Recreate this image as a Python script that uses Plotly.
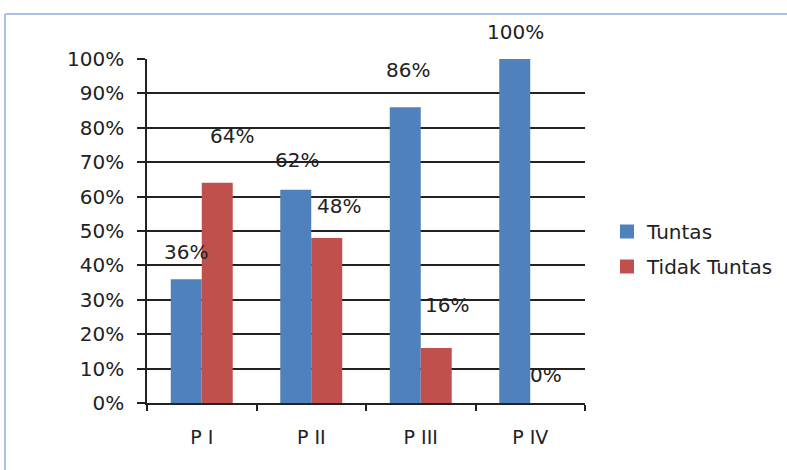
import plotly.graph_objects as go

categories = ["P I", "P II", "P III", "P IV"]
tuntas = [36, 62, 86, 100]
tidak_tuntas = [64, 48, 16, 0]
y_ticks = [0, 10, 20, 30, 40, 50, 60, 70, 80, 90, 100]
y_tick_labels = [f"{v}%" for v in y_ticks]

# label placement style (pixels): vertical lift above bar top, extra horizontal nudge
tuntas_lift = [27, 30, 37, 27]
tuntas_nudge = [0, 1, 3, 1]
tidak_lift = [47, 32, 43, 28]
tidak_nudge = [15, 12, 11, 0]

BLUE = "#4F81BD"
RED = "#C0504D"
FONT = "DejaVu Sans"
FS = 20

W, H = 787, 470
L, R, T, B = 147, 202, 59, 67
pw, ph = W - L - R, H - T - B
bargap = 0.434
bar_px = pw / len(categories) * (1 - bargap) / 2

fig = go.Figure()
fig.add_trace(go.Bar(x=categories, y=tuntas, name="Tuntas",
                     marker=dict(color=BLUE, line=dict(width=0)),
                     showlegend=False))
fig.add_trace(go.Bar(x=categories, y=tidak_tuntas, name="Tidak Tuntas",
                     marker=dict(color=RED, line=dict(width=0)),
                     showlegend=False))
# legend swatches (square markers sized like the reference)
for nm, col, grp in [("Tuntas", BLUE, "a"), ("Tidak Tuntas", RED, "b")]:
    fig.add_trace(go.Scatter(x=[None], y=[None], mode="markers", name=nm,
                             marker=dict(symbol="square", size=14, color=col),
                             legendgroup=grp, showlegend=True, hoverinfo="skip"))

ann = []
for i, c in enumerate(categories):
    ann.append(dict(x=c, y=tuntas[i], xref="x", yref="y", text=f"{tuntas[i]}%",
                    showarrow=False, xanchor="center", yanchor="middle",
                    xshift=-bar_px / 2 + tuntas_nudge[i], yshift=tuntas_lift[i],
                    font=dict(family=FONT, size=FS, color="#222")))
    ann.append(dict(x=c, y=tidak_tuntas[i], xref="x", yref="y", text=f"{tidak_tuntas[i]}%",
                    showarrow=False, xanchor="center", yanchor="middle",
                    xshift=bar_px / 2 + tidak_nudge[i], yshift=tidak_lift[i],
                    font=dict(family=FONT, size=FS, color="#222")))

# outer frame: only top and left edges are visible in the reference
fx0 = (5 - L) / pw
fx1 = (W - L) / pw
fy_top = ((H - B) - 14) / ph
fy_bot = -(H + 40 - (H - B)) / ph
border = dict(color="#A9C2EA", width=2)
shapes = [
    dict(type="line", xref="paper", yref="paper", x0=fx0, x1=fx1, y0=fy_top, y1=fy_top, line=border, layer="below"),
    dict(type="line", xref="paper", yref="paper", x0=fx0, x1=fx0, y0=fy_top, y1=fy_bot, line=border, layer="below"),
]

fig.update_layout(
    width=W, height=H,
    margin=dict(l=L, r=R, t=T, b=B, autoexpand=False),
    paper_bgcolor="white", plot_bgcolor="white",
    barmode="group", bargap=bargap, bargroupgap=0,
    font=dict(family=FONT, size=FS, color="#222"),
    showlegend=True,
    legend=dict(x=(607 - L) / pw, y=((H - B) - 212) / ph, xanchor="left", yanchor="top",
                font=dict(family=FONT, size=FS, color="#222"),
                traceorder="grouped", tracegroupgap=6, itemwidth=30,
                bgcolor="rgba(0,0,0,0)"),
    annotations=ann,
    shapes=shapes,
)
fig.update_xaxes(type="category", showgrid=False, showline=True, linecolor="#222", linewidth=1.5,
                 ticks="outside", ticklen=6, tickcolor="#222", tickwidth=1.5,
                 tickson="boundaries", ticklabelstandoff=16,
                 tickfont=dict(family=FONT, size=FS - 1, color="#222"),
                 range=[-0.5, 3.5])
fig.update_yaxes(range=[0, 100], tickvals=y_ticks, ticktext=y_tick_labels,
                 showgrid=True, gridcolor="#222", gridwidth=1.5,
                 showline=True, linecolor="#222", linewidth=1.5,
                 ticks="outside", ticklen=8, tickcolor="#222", tickwidth=1.5,
                 ticklabelstandoff=9,
                 zeroline=False, tickfont=dict(family=FONT, size=FS, color="#222"))

fig.write_html("out.html", config={"displayModeBar": False},
               post_script="document.body.style.margin='0';document.body.style.overflow='hidden';")
